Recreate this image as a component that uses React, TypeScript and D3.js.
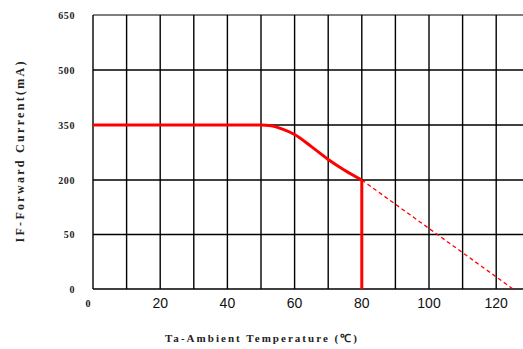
import { useRef, useEffect } from "react";
import * as d3 from "d3";

// temperature ticks (°C), current tick labels (mA)
const xTicks = [0, 20, 40, 60, 80, 100, 120];
const xGrid = [0, 10, 20, 30, 40, 50, 60, 70, 80, 90, 100, 110, 120, 130];
const yTicks = [0, 50, 200, 350, 500, 650];

// derating curve (solid)
const curveTemp = [0, 50, 53, 56, 60, 65, 70, 75, 80];
const curveCurrent = [350, 350, 348, 340, 324, 291, 256, 226, 200];

// cut-off at 80°C
const dropTemp = [80, 80];
const dropCurrent = [200, 0];

// extrapolated (dashed)
const dashTemp = [80, 102.5, 125];
const dashCurrent = [200, 50, 0];

export default function App() {
  const svgRef = useRef(null);

  useEffect(() => {
    const width = 523;
    const svg = d3.select(svgRef.current);
    svg.selectAll("*").remove();

    const x = d3.scaleLinear().domain([0, 130]).range([93, 529.8]);
    // labels are evenly spaced on the original chart
    const y = d3.scaleLinear().domain(yTicks).range([289, 234.5, 180, 125, 70, 15]);

    const g = svg.append("g");

    // grid
    g.selectAll("line.h")
      .data(yTicks)
      .join("line")
      .attr("x1", x(0))
      .attr("x2", width + 10)
      .attr("y1", (d) => y(d))
      .attr("y2", (d) => y(d))
      .attr("stroke", (d) => (d === 650 ? "#555" : "#000"))
      .attr("stroke-width", 1.4);

    g.selectAll("line.v")
      .data(xGrid)
      .join("line")
      .attr("x1", (d) => x(d))
      .attr("x2", (d) => x(d))
      .attr("y1", y(650))
      .attr("y2", y(0))
      .attr("stroke", "#000")
      .attr("stroke-width", 1.4);

    // y tick labels
    g.selectAll("text.yt")
      .data(yTicks)
      .join("text")
      .attr("x", 75)
      .attr("y", (d) => y(d))
      .attr("dy", "0.35em")
      .attr("text-anchor", "end")
      .attr("font-family", "Liberation Serif, serif")
      .attr("font-weight", "bold")
      .attr("font-size", 10)
      .attr("letter-spacing", 0.6)
      .attr("fill", "#222")
      .text((d) => d);

    // x tick labels
    g.selectAll("text.xt")
      .data(xTicks)
      .join("text")
      .attr("x", (d) => (d === 0 ? x(d) - 5 : x(d)))
      .attr("y", 303)
      .attr("dy", "0.35em")
      .attr("text-anchor", "middle")
      .attr("font-family", (d) => (d === 0 ? "Liberation Serif, serif" : "Liberation Sans, sans-serif"))
      .attr("font-weight", (d) => (d === 0 ? "bold" : "normal"))
      .attr("font-size", (d) => (d === 0 ? 10 : 14))
      .attr("fill", "#111")
      .text((d) => d);

    const solid = d3
      .line<[number, number]>()
      .x((d) => x(d[0]))
      .y((d) => y(d[1]))
      .curve(d3.curveMonotoneX);

    const straight = d3
      .line<[number, number]>()
      .x((d) => x(d[0]))
      .y((d) => y(d[1]));

    g.append("path")
      .attr("d", straight(dashTemp.map((t, i) => [t, dashCurrent[i]])))
      .attr("fill", "none")
      .attr("stroke", "#ff0000")
      .attr("stroke-width", 1.3)
      .attr("stroke-dasharray", "4,3");

    g.append("path")
      .attr("d", solid(curveTemp.map((t, i) => [t, curveCurrent[i]])))
      .attr("fill", "none")
      .attr("stroke", "#ff0000")
      .attr("stroke-width", 3);

    g.append("path")
      .attr("d", straight(dropTemp.map((t, i) => [t, dropCurrent[i]])))
      .attr("fill", "none")
      .attr("stroke", "#ff0000")
      .attr("stroke-width", 3);

    // axis titles
    g.append("text")
      .attr("x", 261)
      .attr("y", 338)
      .attr("dy", "0.35em")
      .attr("text-anchor", "middle")
      .attr("font-family", "Liberation Serif, serif")
      .attr("font-weight", "bold")
      .attr("font-size", 11)
      .attr("textLength", 192)
      .attr("lengthAdjust", "spacing")
      .attr("fill", "#222")
      .text("Ta-Ambient Temperature (℃)");

    g.append("text")
      .attr("transform", "translate(20,152) rotate(-90)")
      .attr("dy", "0.35em")
      .attr("text-anchor", "middle")
      .attr("font-family", "Liberation Serif, serif")
      .attr("font-weight", "bold")
      .attr("font-size", 12)
      .attr("textLength", 181)
      .attr("lengthAdjust", "spacing")
      .attr("fill", "#222")
      .text("IF-Forward Current(mA)");
  }, []);

  return (
    <svg
      ref={svgRef}
      width={523}
      height={349}
      style={{ position: "absolute", left: 0, top: 0, background: "#fff" }}
    ></svg>
  );
}
